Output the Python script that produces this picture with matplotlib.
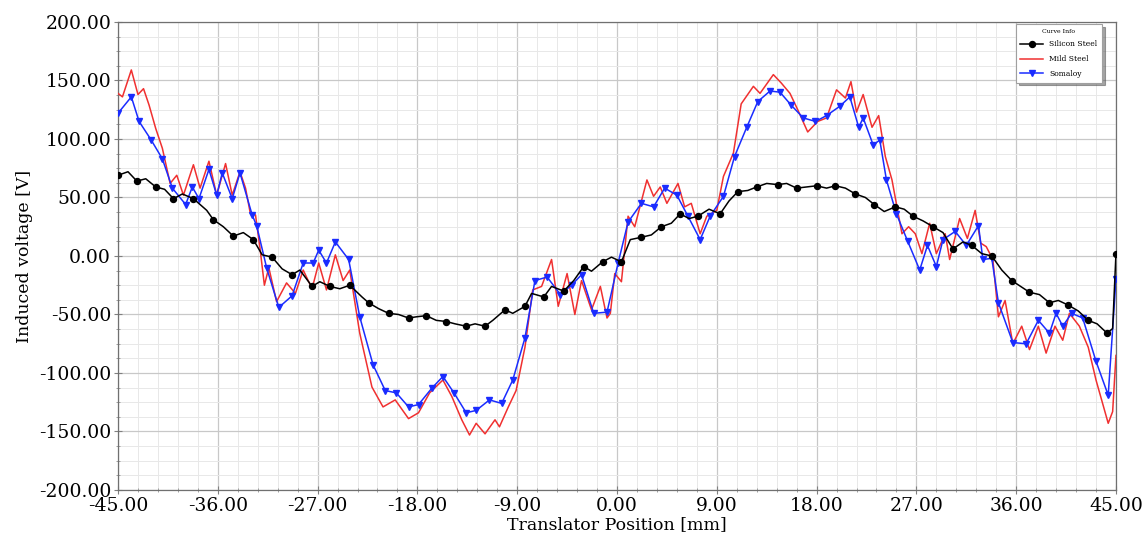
import matplotlib
matplotlib.use('Agg')
import matplotlib.pyplot as plt
from matplotlib.ticker import MultipleLocator, FormatStrFormatter

# Silicon Steel: markers sit on every other point
si_x = [-45.0, -44.1, -43.3, -42.5, -41.6, -40.8, -40.0, -39.2, -38.2, -37.0,
        -36.4, -35.5, -34.6, -33.7, -32.8, -32.0, -31.1, -30.2, -29.3, -28.6,
        -27.5, -26.8, -25.9, -25.0, -24.1, -23.0, -22.4, -21.5, -20.6, -19.7,
        -18.8, -18.1, -17.2, -16.3, -15.4, -14.6, -13.6, -12.8, -11.9, -11.2,
        -10.1, -9.4, -8.3, -7.7, -6.6, -5.9, -4.8, -3.9, -3.0, -2.3,
        -1.3, -0.5, 0.4, 1.2, 2.2, 3.1, 4.0, 4.9, 5.7, 6.5,
        7.3, 8.3, 9.3, 10.1, 10.9, 11.8, 12.6, 13.5, 14.5, 15.3,
        16.2, 17.1, 18.0, 18.9, 19.7, 20.6, 21.5, 22.4, 23.2, 24.1,
        25.1, 25.9, 26.7, 27.6, 28.5, 29.4, 30.3, 31.2, 32.0, 32.9,
        33.8, 34.7, 35.6, 36.4, 37.2, 38.1, 39.0, 39.8, 40.7, 41.6,
        42.5, 43.3, 44.2, 44.7, 45.0]
si_v = [69, 72, 64, 66, 59, 57, 49, 53, 49, 39,
        31, 25, 17, 20, 14, 1, -1, -11, -16, -12,
        -26, -22, -26, -28, -25, -35, -40, -45, -49, -50,
        -53, -52, -51, -55, -56, -58, -60, -58, -60, -55,
        -46, -49, -43, -32, -35, -26, -30, -21, -9, -13,
        -5, -1, -5, 14, 16, 18, 25, 28, 36, 32,
        34, 40, 36, 47, 55, 56, 59, 62, 61, 62,
        58, 59, 60, 58, 60, 58, 53, 50, 44, 38,
        42, 40, 34, 30, 25, 20, 6, 12, 9, 2,
        0, -12, -21, -26, -31, -33, -40, -38, -42, -47,
        -55, -58, -66, -62, 2]

# Mild Steel
mild_x = [-45.0, -44.6, -43.8, -43.2, -42.7, -42.2, -41.6, -41.0, -40.6, -40.3,
          -39.7, -39.1, -38.2, -37.6, -36.8, -36.1, -35.3, -34.7, -34.0, -33.5,
          -33.1, -32.6, -32.2, -31.8, -31.4, -30.7, -29.8, -29.0, -28.3, -27.5,
          -26.9, -26.2, -25.4, -24.7, -24.1, -23.2, -22.1, -21.1, -20.0, -18.8,
          -17.9, -16.9, -15.7, -14.9, -14.0, -13.3, -12.7, -11.9, -11.0, -10.6,
          -9.8, -9.1, -8.3, -7.6, -6.8, -5.9, -5.3, -4.5, -3.8, -3.2,
          -2.3, -1.5, -0.9, -0.6, -0.2, 0.4, 1.0, 1.6, 2.7, 3.3,
          3.9, 4.5, 5.5, 6.1, 6.7, 7.5, 8.1, 9.0, 9.6, 10.5,
          11.2, 12.3, 12.9, 14.1, 14.8, 15.6, 16.3, 17.2, 18.1, 18.9,
          19.8, 20.6, 21.1, 21.6, 22.2, 23.0, 23.6, 24.2, 24.8, 25.7,
          26.3, 26.9, 27.5, 28.2, 28.8, 29.6, 30.0, 30.9, 31.6, 32.3,
          32.8, 33.3, 33.9, 34.4, 35.0, 35.7, 36.5, 37.2, 38.0, 38.7,
          39.5, 40.2, 40.8, 41.7, 42.5, 43.2, 44.3, 44.7, 45.0]
mild_v = [139, 136, 159, 138, 143, 129, 109, 92, 75, 62,
          69, 52, 78, 58, 81, 52, 79, 52, 72, 58,
          38, 35, 7, -25, -10, -39, -23, -32, -12, -28,
          -6, -29, 1, -21, -12, -66, -112, -129, -123, -139,
          -134, -117, -106, -120, -140, -153, -143, -152, -140, -146,
          -129, -115, -78, -29, -26, -3, -43, -15, -50, -21,
          -46, -26, -53, -49, -15, -22, 34, 25, 65, 51,
          59, 45, 62, 42, 45, 19, 34, 39, 68, 88,
          130, 145, 139, 155, 148, 139, 125, 106, 115, 118,
          142, 135, 149, 123, 138, 110, 120, 85, 65, 19,
          25, 19, 2, 28, 2, 19, -3, 32, 15, 39,
          11, 8, -3, -52, -38, -75, -60, -80, -60, -83,
          -60, -72, -49, -60, -78, -106, -143, -133, -85]

# Somaloy: marker on every point
soma_x = [-45.0, -43.8, -43.1, -42.0, -41.0, -40.1, -38.9, -38.3, -37.7, -36.8,
          -36.1, -35.6, -34.7, -34.0, -32.9, -32.5, -31.6, -30.5, -29.3, -28.3,
          -27.4, -26.9, -26.2, -25.4, -24.2, -23.2, -22.0, -20.9, -19.9, -18.8,
          -17.9, -16.7, -15.7, -14.7, -13.6, -12.7, -11.5, -10.4, -9.4, -8.3,
          -7.4, -6.3, -5.1, -4.1, -3.2, -2.1, -0.9, 0.1, 1.0, 2.2,
          3.3, 4.3, 5.4, 6.4, 7.5, 8.4, 9.6, 10.6, 11.7, 12.7,
          13.8, 14.7, 15.7, 16.8, 17.9, 18.9, 20.1, 21.0, 21.8, 22.2,
          23.1, 23.7, 24.3, 25.2, 26.2, 27.3, 28.0, 28.8, 29.4, 30.5,
          31.5, 32.6, 33.0, 33.8, 34.4, 35.7, 36.9, 38.0, 39.0, 39.6,
          40.2, 41.0, 42.0, 43.2, 44.3, 45.0]
soma_v = [122, 136, 115, 99, 83, 58, 44, 59, 49, 74,
          52, 71, 49, 71, 35, 26, -10, -44, -34, -6,
          -6, 5, -6, 12, -3, -52, -93, -115, -117, -129,
          -127, -113, -103, -117, -134, -132, -123, -126, -106, -70,
          -21, -18, -33, -25, -16, -49, -48, -6, 29, 45,
          42, 58, 52, 34, 14, 34, 51, 85, 110, 132,
          141, 140, 129, 118, 115, 120, 128, 136, 110, 118,
          95, 99, 65, 36, 13, -12, 9, -9, 14, 21,
          9, 26, -3, -2, -40, -74, -75, -55, -66, -49,
          -60, -49, -53, -90, -119, -20]

x_ticks = [-45, -36, -27, -18, -9, 0, 9, 18, 27, 36, 45]
y_ticks = [-200, -150, -100, -50, 0, 50, 100, 150, 200]

plt.rcParams['font.family'] = ['DejaVu Serif']

fig = plt.figure(figsize=(11.48, 5.4), dpi=100)
ax = fig.add_axes([0.1028, 0.0926, 0.8693, 0.8667])

ax.plot(mild_x, mild_v, color='#f03030', lw=1.1, label='Mild Steel', zorder=3)
ax.plot(soma_x, soma_v, color='#1a2cff', lw=1.1, marker='v', ms=4.3,
        label='Somaloy', zorder=4)
ax.plot(si_x, si_v, color='black', lw=1.1, marker='o', ms=4.3,
        markevery=2, label='Silicon Steel', zorder=5)

ax.set_xlim(-45, 45)
ax.set_ylim(-200, 200)
ax.set_xticks(x_ticks)
ax.set_yticks(y_ticks)
ax.xaxis.set_major_formatter(FormatStrFormatter('%.2f'))
ax.yaxis.set_major_formatter(FormatStrFormatter('%.2f'))
ax.xaxis.set_minor_locator(MultipleLocator(1.8))
ax.yaxis.set_minor_locator(MultipleLocator(12.5))

ax.grid(which='major', color='#c8c8c8', lw=0.9)
ax.grid(which='minor', color='#e8e8e8', lw=0.7)
ax.set_axisbelow(True)

ax.tick_params(which='major', direction='inout', length=6, width=0.8,
               color='#808080', labelsize=13.5, pad=2)
ax.tick_params(which='minor', direction='inout', length=3, width=0.6,
               color='#909090')
for s in ax.spines.values():
    s.set_color('#707070')
    s.set_linewidth(0.9)

ax.set_xlabel('Translator Position [mm]', fontsize=12.5, labelpad=1)
ax.set_ylabel('Induced voltage [V]', fontsize=12.5, labelpad=4)

# legend order as in the reference
h, l = ax.get_legend_handles_labels()
order = [2, 0, 1]
leg = ax.legend([h[i] for i in order], [l[i] for i in order],
                title='Curve Info', loc='upper right',
                bbox_to_anchor=(0.99, 1.004), fontsize=5.5,
                title_fontsize=4.5, frameon=True, fancybox=False,
                shadow=True, edgecolor='#a0a0a0', borderpad=0.6,
                labelspacing=0.9, handlelength=3.0, markerscale=1.0)
leg.get_frame().set_linewidth(0.8)

fig.savefig('out.png', dpi=100)
